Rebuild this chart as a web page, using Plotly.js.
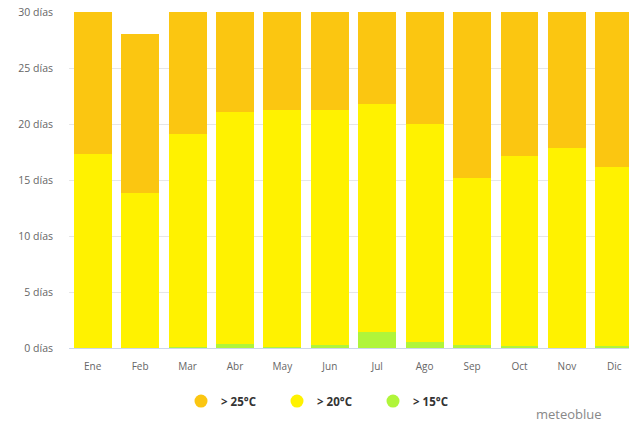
<!DOCTYPE html>
<html><head><meta charset="utf-8">
<script src="https://cdn.plot.ly/plotly-3.0.1.min.js"></script>
<style>html,body{margin:0;padding:0;background:#fff}#chart{width:629px;height:425px}</style>
</head><body><div id="chart"></div>
<script>
const months = ["Ene","Feb","Mar","Abr","May","Jun","Jul","Ago","Sep","Oct","Nov","Dic"];
const days15 = [0, 0, 0.1, 0.4, 0.1, 0.3, 1.4, 0.55, 0.3, 0.15, 0, 0.15];
const days20 = [17.3, 13.8, 19.0, 20.7, 21.15, 20.95, 20.4, 19.45, 14.9, 16.95, 17.85, 16.05];
const days25 = [13.7, 14.2, 11.9, 8.9, 9.75, 8.75, 9.2, 11.0, 14.8, 13.9, 12.15, 14.8];
const yTicks = [0, 5, 10, 15, 20, 25, 30];
const yTickText = ["0 días","5 días","10 días","15 días","20 días","25 días","30 días"];
const legendNames = ["> 25°C", "> 20°C", "> 15°C"];

const cOrange = "#fbc611", cYellow = "#fff200", cGreen = "#b0f53a";

const bars = [
  {type:"bar", x:months, y:days15, marker:{color:cGreen}, showlegend:false, hoverinfo:"skip"},
  {type:"bar", x:months, y:days20, marker:{color:cYellow}, showlegend:false, hoverinfo:"skip"},
  {type:"bar", x:months, y:days25, marker:{color:cOrange}, showlegend:false, hoverinfo:"skip"}
];
const legendColors = [cOrange, cYellow, cGreen];
const legendTraces = legendNames.map((n,i)=>({
  type:"scatter", mode:"markers", x:[null], y:[null], name:n,
  marker:{color:legendColors[i], size:13, symbol:"circle"}, showlegend:true
}));

const layout = {
  width:629, height:425,
  margin:{l:69, r:0, t:12, b:77},
  paper_bgcolor:"#fff", plot_bgcolor:"#fff",
  barmode:"stack", bargap:0.2,
  font:{family:"Open Sans, sans-serif", color:"#666"},
  xaxis:{type:"category", range:[-0.5, 11.31], showgrid:false, zeroline:false,
         showline:true, linecolor:"#ccd6eb", linewidth:1,
         ticks:"", tickfont:{size:10, color:"#666"}, ticklabelstandoff:9, fixedrange:true},
  yaxis:{range:[0,30], tickvals:yTicks, ticktext:yTickText, showgrid:true, gridcolor:"#e6e6e6",
         zeroline:false, showline:false, ticks:"", tickfont:{size:10.5, color:"#666"}, ticklabelstandoff:15, fixedrange:true},
  legend:{orientation:"h", traceorder:"normal", x:0.2, xanchor:"left", y:-0.158, yanchor:"middle",
          font:{size:11.5, color:"#333", weight:"bold"}, itemwidth:30, entrywidth:51, entrywidthmode:"pixels", tracegroupgap:0},
  annotations:[{text:"meteoblue", xref:"paper", yref:"paper", x:0.955, y:-0.196, xanchor:"right", yanchor:"middle",
                showarrow:false, font:{size:13, color:"#888"}}]
};
Plotly.newPlot("chart", bars.concat(legendTraces), layout, {displayModeBar:false, staticPlot:true});
</script></body></html>
